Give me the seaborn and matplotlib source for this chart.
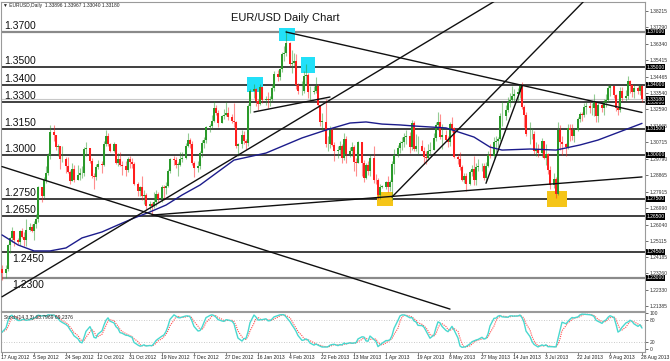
import numpy as np
import pandas as pd
import matplotlib
matplotlib.use("Agg")
import matplotlib.pyplot as plt
import matplotlib.transforms as mtransforms
from matplotlib.patches import Rectangle
import seaborn as sns

# ---------------- data ----------------
first_date = "2012-08-17"
last_date = "2013-08-28"
holidays = ["2012-12-25", "2013-01-01"]
first_open = 1.2350

closes = [
    1.2330,
    1.2350, 1.2485, 1.2525, 1.2565, 1.2515,
    1.2505, 1.2565, 1.2535, 1.2515, 1.2575,
    1.2590, 1.2570, 1.2605, 1.2635, 1.2815,
    1.2765, 1.2860, 1.2895, 1.3000, 1.3130,
    1.3115, 1.3045, 1.3050, 1.2975, 1.2980,
    1.2935, 1.2905, 1.2850, 1.2920, 1.2860,
    1.2885, 1.2895, 1.2900, 1.3035, 1.3040,
    1.2965, 1.2880, 1.2875, 1.2930, 1.2950,
    1.2945, 1.3065, 1.3110, 1.3060, 1.3025,
    1.3060, 1.2955, 1.2975, 1.2945, 1.2940,
    1.2915, 1.2975, 1.2960, 1.2950, 1.2835,
    1.2795, 1.2815, 1.2765, 1.2775, 1.2710,
    1.2720, 1.2710, 1.2735, 1.2780, 1.2750,
    1.2815, 1.2810, 1.2825, 1.2910, 1.2975,
    1.2970, 1.2945, 1.2945, 1.2980, 1.2985,
    1.3050, 1.3085, 1.3065, 1.2955, 1.2925,
    1.2940, 1.3010, 1.3070, 1.3085, 1.3160,
    1.3165, 1.3195, 1.3270, 1.3240, 1.3180,
    1.3220, 1.3225, 1.3240, 1.3215,
    1.3195, 1.3185, 1.3050, 1.3065,
    1.3115, 1.3080, 1.3070, 1.3280, 1.3365,
    1.3375, 1.3310, 1.3290, 1.3385, 1.3315,
    1.3320, 1.3315, 1.3320, 1.3380, 1.3460,
    1.3445, 1.3490, 1.3575, 1.3580, 1.3640,
    1.3520, 1.3525, 1.3535, 1.3400, 1.3365,
    1.3365, 1.3450, 1.3455, 1.3360, 1.3360,
    1.3365, 1.3390, 1.3285, 1.3190, 1.3190,
    1.3060, 1.3060, 1.3140, 1.3055, 1.3020,
    1.3030, 1.3050, 1.2985, 1.3090, 1.3005,
    1.3025, 1.3045, 1.2960, 1.2955, 1.3075,
    1.2955, 1.2870, 1.2945, 1.2910, 1.2985,
    1.2860, 1.2855, 1.2775, 1.2820, 1.2820,
    1.2845, 1.2820, 1.2845, 1.2950, 1.3000,
    1.3040, 1.3070, 1.3075, 1.3105, 1.3110,
    1.3045, 1.3180, 1.3035, 1.3050, 1.3050,
    1.3025, 1.2990, 1.2985, 1.3020, 1.3030,
    1.3095, 1.3170, 1.3185, 1.3105, 1.3115,
    1.3085, 1.3075, 1.3175, 1.3155, 1.2990,
    1.2975, 1.2930, 1.2860, 1.2880, 1.2835,
    1.2905, 1.2920, 1.2860, 1.2930, 1.2935,
    1.2935, 1.2870, 1.2940, 1.3000, 1.2995,
    1.3075, 1.3080, 1.3090, 1.3220, 1.3220,
    1.3255, 1.3300, 1.3315, 1.3335, 1.3345,
    1.3360, 1.3395, 1.3275, 1.3225, 1.3120,
    1.3120, 1.3120, 1.3020, 1.3035, 1.3010,
    1.3080, 1.2985, 1.3005, 1.2915, 1.2830,
    1.2865, 1.2780, 1.3140, 1.3075, 1.3065,
    1.3045, 1.3155, 1.3145, 1.3110, 1.3140,
    1.3205, 1.3235, 1.3225, 1.3275, 1.3280,
    1.3265, 1.3270, 1.3300, 1.3220, 1.3285,
    1.3265, 1.3300, 1.3315, 1.3380, 1.3395,
    1.3340, 1.3265, 1.3255, 1.3365, 1.3325,
    1.3335, 1.3420, 1.3400, 1.3360, 1.3380,
    1.3365, 1.3390, 1.3318,
]

highs = [
    1.2375,
    1.2375, 1.2495, 1.2535, 1.2590, 1.2570,
    1.2530, 1.2575, 1.2585, 1.2560, 1.2635,
    1.2615, 1.2610, 1.2625, 1.2665, 1.2825,
    1.2815, 1.2875, 1.2935, 1.3010, 1.3170,
    1.3172, 1.3110, 1.3060, 1.3030, 1.3050,
    1.2990, 1.2990, 1.2915, 1.2955, 1.2945,
    1.2945, 1.2925, 1.2935, 1.3045, 1.3075,
    1.3020, 1.2985, 1.2895, 1.2950, 1.2970,
    1.2965, 1.3080, 1.3140, 1.3125, 1.3070,
    1.3075, 1.3060, 1.3010, 1.3015, 1.2965,
    1.2965, 1.2990, 1.2995, 1.2985, 1.2960,
    1.2845, 1.2825, 1.2880, 1.2800, 1.2785,
    1.2740, 1.2735, 1.2790, 1.2800, 1.2790,
    1.2830, 1.2830, 1.2845, 1.2920, 1.2985,
    1.2995, 1.2990, 1.2960, 1.3015, 1.3015,
    1.3070, 1.3125, 1.3095, 1.3080, 1.2965,
    1.2965, 1.3020, 1.3085, 1.3100, 1.3165,
    1.3175, 1.3225, 1.3308, 1.3285, 1.3255,
    1.3230, 1.3260, 1.3300, 1.3275,
    1.3235, 1.3295, 1.3195, 1.3070,
    1.3140, 1.3135, 1.3090, 1.3290, 1.3375,
    1.3404, 1.3380, 1.3320, 1.3405, 1.3385,
    1.3335, 1.3360, 1.3335, 1.3405, 1.3480,
    1.3485, 1.3495, 1.3585, 1.3620, 1.3711,
    1.3645, 1.3595, 1.3580, 1.3575, 1.3410,
    1.3420, 1.3480, 1.3520, 1.3465, 1.3395,
    1.3395, 1.3445, 1.3405, 1.3285, 1.3240,
    1.3320, 1.3110, 1.3165, 1.3155, 1.3075,
    1.3050, 1.3080, 1.3065, 1.3125, 1.3110,
    1.3045, 1.3075, 1.3055, 1.2985, 1.3080,
    1.2965, 1.2970, 1.2955, 1.2965, 1.3000,
    1.3050, 1.2890, 1.2870, 1.2835, 1.2830,
    1.2850, 1.2880, 1.2860, 1.2965, 1.3035,
    1.3055, 1.3080, 1.3100, 1.3125, 1.3145,
    1.3130, 1.3200, 1.3195, 1.3120, 1.3110,
    1.3085, 1.3045, 1.3020, 1.3065, 1.3075,
    1.3125, 1.3185, 1.3243, 1.3235, 1.3175,
    1.3140, 1.3110, 1.3185, 1.3215, 1.3160,
    1.3005, 1.3015, 1.2945, 1.2895, 1.2900,
    1.2915, 1.2945, 1.2995, 1.2955, 1.2975,
    1.2955, 1.2955, 1.2960, 1.3020, 1.3060,
    1.3105, 1.3110, 1.3105, 1.3240, 1.3305,
    1.3285, 1.3330, 1.3350, 1.3390, 1.3375,
    1.3380, 1.3405, 1.3417, 1.3285, 1.3245,
    1.3185, 1.3155, 1.3135, 1.3075, 1.3060,
    1.3095, 1.3080, 1.3060, 1.3010, 1.2935,
    1.2900, 1.2875, 1.3190, 1.3170, 1.3110,
    1.3070, 1.3175, 1.3175, 1.3175, 1.3155,
    1.3215, 1.3245, 1.3245, 1.3295, 1.3300,
    1.3300, 1.3295, 1.3345, 1.3305, 1.3295,
    1.3295, 1.3320, 1.3345, 1.3400, 1.3400,
    1.3395, 1.3345, 1.3300, 1.3385, 1.3385,
    1.3370, 1.3452, 1.3425, 1.3405, 1.3400,
    1.3395, 1.3400, 1.3397,
]

lows = [
    1.2290,
    1.2300, 1.2340, 1.2440, 1.2505, 1.2480,
    1.2495, 1.2490, 1.2525, 1.2480, 1.2480,
    1.2570, 1.2560, 1.2515, 1.2585, 1.2620,
    1.2735, 1.2755, 1.2840, 1.2885, 1.2980,
    1.3080, 1.3030, 1.2995, 1.2920, 1.2960,
    1.2900, 1.2895, 1.2835, 1.2850, 1.2845,
    1.2860, 1.2855, 1.2870, 1.2880, 1.2995,
    1.2955, 1.2870, 1.2805, 1.2860, 1.2920,
    1.2900, 1.2940, 1.3050, 1.3050, 1.3015,
    1.3015, 1.2950, 1.2935, 1.2935, 1.2885,
    1.2880, 1.2905, 1.2925, 1.2925, 1.2830,
    1.2765, 1.2765, 1.2745, 1.2720, 1.2695,
    1.2685, 1.2661, 1.2700, 1.2710, 1.2730,
    1.2735, 1.2745, 1.2780, 1.2820, 1.2895,
    1.2945, 1.2925, 1.2880, 1.2940, 1.2960,
    1.2980, 1.3045, 1.3040, 1.2945, 1.2875,
    1.2905, 1.2920, 1.2990, 1.3040, 1.3070,
    1.3130, 1.3155, 1.3190, 1.3225, 1.3160,
    1.3180, 1.3205, 1.3220, 1.3200,
    1.3180, 1.3160, 1.3040, 1.2995,
    1.3040, 1.3060, 1.3035, 1.3050, 1.3240,
    1.3325, 1.3280, 1.3256, 1.3285, 1.3295,
    1.3285, 1.3265, 1.3280, 1.3310, 1.3365,
    1.3420, 1.3425, 1.3475, 1.3535, 1.3565,
    1.3505, 1.3465, 1.3505, 1.3375, 1.3345,
    1.3340, 1.3355, 1.3400, 1.3325, 1.3315,
    1.3345, 1.3355, 1.3275, 1.3165, 1.3145,
    1.3045, 1.3020, 1.3040, 1.3050, 1.2965,
    1.2985, 1.3000, 1.2955, 1.2970, 1.2955,
    1.2990, 1.2995, 1.2910, 1.2880, 1.2960,
    1.2880, 1.2845, 1.2865, 1.2885, 1.2880,
    1.2840, 1.2835, 1.2750, 1.2750, 1.2810,
    1.2805, 1.2790, 1.2795, 1.2745, 1.2890,
    1.2990, 1.3010, 1.3030, 1.3045, 1.3065,
    1.3010, 1.3030, 1.3025, 1.3020, 1.3005,
    1.3020, 1.2950, 1.2950, 1.2980, 1.3005,
    1.3030, 1.3080, 1.3140, 1.3090, 1.3035,
    1.3080, 1.3045, 1.3050, 1.3130, 1.2985,
    1.2950, 1.2915, 1.2850, 1.2840, 1.2796,
    1.2830, 1.2880, 1.2830, 1.2830, 1.2910,
    1.2910, 1.2860, 1.2850, 1.2930, 1.2985,
    1.2985, 1.3015, 1.3045, 1.3080, 1.3165,
    1.3200, 1.3245, 1.3275, 1.3300, 1.3305,
    1.3310, 1.3325, 1.3260, 1.3160, 1.3110,
    1.3060, 1.3090, 1.3005, 1.2995, 1.2990,
    1.2990, 1.2975, 1.2945, 1.2890, 1.2805,
    1.2810, 1.2755, 1.2770, 1.3030, 1.3000,
    1.2995, 1.3035, 1.3080, 1.3085, 1.3075,
    1.3135, 1.3185, 1.3195, 1.3215, 1.3235,
    1.3240, 1.3230, 1.3220, 1.3190, 1.3185,
    1.3245, 1.3225, 1.3275, 1.3300, 1.3335,
    1.3325, 1.3250, 1.3225, 1.3245, 1.3310,
    1.3310, 1.3320, 1.3355, 1.3330, 1.3325,
    1.3345, 1.3340, 1.3304,
]

# blue moving average
ma_dates = ["2012-08-17", "2012-08-27", "2012-09-05", "2012-09-14", "2012-09-24",
            "2012-10-03", "2012-10-15", "2012-10-24", "2012-11-02", "2012-11-12",
            "2012-11-21", "2012-11-30", "2012-12-11", "2013-01-02", "2013-01-21",
            "2013-02-11", "2013-02-25", "2013-03-11", "2013-03-20", "2013-03-29",
            "2013-04-09", "2013-04-17", "2013-05-06", "2013-05-22", "2013-05-31",
            "2013-06-07", "2013-06-24", "2013-07-09", "2013-07-23", "2013-08-02",
            "2013-08-28"]
ma_values = [1.2545, 1.2488, 1.2454, 1.2454, 1.2471,
             1.2528, 1.2562, 1.2602, 1.2641, 1.2676,
             1.2715, 1.2772, 1.2829, 1.2971, 1.3011,
             1.3097, 1.3142, 1.3182, 1.3188, 1.3176,
             1.3171, 1.3165, 1.3154, 1.3102, 1.3045,
             1.3028, 1.3034, 1.3028, 1.3057, 1.3085,
             1.3180]

# horizontal levels
level_prices = [1.3700, 1.3500, 1.3400, 1.3300, 1.3150, 1.3000, 1.2750, 1.2650, 1.2450, 1.2300]
level_labels = ["1.3700", "1.3500", "1.3400", "1.3300", "1.3150", "1.3000", "1.2750", "1.2650", "1.2450", "1.2300"]
bid_price = 1.33180

# trend lines (start date, start price) -> (end date, end price)
trend_start_dates = ["2012-08-17", "2012-08-17", "2013-02-01", "2012-11-13", "2013-04-04", "2013-05-29", "2013-01-14"]
trend_start_prices = [1.2934, 1.2193, 1.3700, 1.2658, 1.2761, 1.2839, 1.3245]
trend_end_dates = ["2013-05-08", "2013-06-03", "2013-08-28", "2013-08-28", "2013-07-29", "2013-06-19", "2013-02-27"]
trend_end_prices = [1.2123, 1.3873, 1.3242, 1.2875, 1.3911, 1.3393, 1.3330]

# highlight boxes: first date, last date, low, high
cyan_boxes = [("2013-01-10", "2013-01-18", 1.3359, 1.3444),
              ("2013-01-29", "2013-02-06", 1.3649, 1.3723),
              ("2013-02-11", "2013-02-18", 1.3467, 1.3558)]
yellow_boxes = [("2013-03-27", "2013-04-04", 1.2710, 1.2789),
                ("2013-07-04", "2013-07-15", 1.2704, 1.2795)]

axis_ticks = [1.38215, 1.37290, 1.36340, 1.35415, 1.34465, 1.33540, 1.32590, 1.31665, 1.30715,
              1.29790, 1.28865, 1.27915, 1.26990, 1.26040, 1.25115, 1.24185, 1.23260, 1.22330, 1.21385]
axis_tick_labels = ["1.38215", "1.37290", "1.36340", "1.35415", "1.34465", "1.33540", "1.32590",
                    "1.31665", "1.30715", "1.29790", "1.28865", "1.27915", "1.26990", "1.26040",
                    "1.25115", "1.24185", "1.23260", "1.22330", "1.21385"]

date_ticks = ["2012-08-17", "2012-09-05", "2012-09-24", "2012-10-12", "2012-10-31", "2012-11-19",
              "2012-12-07", "2012-12-27", "2013-01-16", "2013-02-04", "2013-02-22", "2013-03-13",
              "2013-04-01", "2013-04-19", "2013-05-08", "2013-05-27", "2013-06-14", "2013-07-03",
              "2013-07-22", "2013-08-09", "2013-08-28"]
date_tick_labels = ["17 Aug 2012", "5 Sep 2012", "24 Sep 2012", "12 Oct 2012", "31 Oct 2012",
                    "19 Nov 2012", "7 Dec 2012", "27 Dec 2012", "16 Jan 2013", "4 Feb 2013",
                    "22 Feb 2013", "13 Mar 2013", "1 Apr 2013", "19 Apr 2013", "8 May 2013",
                    "27 May 2013", "14 Jun 2013", "3 Jul 2013", "22 Jul 2013", "9 Aug 2013",
                    "28 Aug 2013"]
stoch_ticks = [0, 20, 80, 100]
stoch_tick_labels = ["0", "20", "80", "100"]

title_text = "EUR/USD Daily Chart"
header_text = "\u25bc EURUSD,Daily  1.33896 1.33967 1.33040 1.33180"
stoch_text = "Stoch(14,3,3) 63.7969 69.2376"

# ---------------- setup ----------------
sns.set_theme(style="white")
plt.rcParams["font.family"] = ["Liberation Sans", "DejaVu Sans"]

days = pd.bdate_range(first_date, last_date, freq="C", holidays=holidays)
slots = pd.bdate_range(first_date, last_date, freq="C",
                       weekmask="Sun Mon Tue Wed Thu Fri", holidays=holidays)
n = min(len(days), len(closes), len(highs), len(lows))
days = days[:n]
c = np.array(closes[:n])
hi = np.array(highs[:n])
lo = np.array(lows[:n])
o = np.concatenate([[first_open], c[:-1]])
hi = np.maximum(hi, np.maximum(o, c))
lo = np.minimum(lo, np.minimum(o, c))
xpos = slots.get_indexer(days)


def pos(d):
    return slots.get_indexer(pd.DatetimeIndex([d]))[0]


W, H = 670, 361
fig = plt.figure(figsize=(W / 100, H / 100), dpi=100)
fig.patch.set_facecolor("white")
ax = fig.add_axes([1 / W, (H - 311) / H, 644 / W, 309 / H])
ax2 = fig.add_axes([1 / W, (H - 352) / H, 644 / W, 40 / H])

GREEN = "#2a9a2a"
RED = "#ff1e1e"
LEVEL_DARK = "#303030"
LEVEL_GRAY = "#8a8a8a"

# ---------------- main panel ----------------
ax.set_xlim(-0.5, 321.5)
ax.set_ylim(1.21121, 1.38707)

for p, lbl in zip(level_prices, level_labels):
    gray = lbl in ("1.3700", "1.2300")
    ax.axhline(p, color=LEVEL_GRAY if gray else LEVEL_DARK, lw=1.6 if gray else 1.3, zorder=2)
ax.axhline(bid_price, color="#c8c8c8", lw=0.8, zorder=1.5)

for d0, d1, p0, p1 in cyan_boxes:
    x0, x1 = pos(d0) - 0.5, pos(d1) + 0.5
    ax.add_patch(Rectangle((x0, p0), x1 - x0, p1 - p0, facecolor="#22e0f8", edgecolor="none", zorder=2.2))
for d0, d1, p0, p1 in yellow_boxes:
    x0, x1 = pos(d0) - 0.5, pos(d1) + 0.5
    ax.add_patch(Rectangle((x0, p0), x1 - x0, p1 - p0, facecolor="#f5c518", edgecolor="none", zorder=2.2))

up = c >= o
cols = np.where(up, GREEN, RED)
ax.vlines(xpos, lo, hi, colors=cols, lw=0.8, alpha=0.5, zorder=3)
body = np.maximum(np.abs(c - o), 0.00012)
ax.bar(xpos, body, bottom=np.minimum(o, c), width=0.8, color=cols, linewidth=0, zorder=4)

ma_x = [pos(d) for d in ma_dates]
sns.lineplot(x=ma_x, y=ma_values, ax=ax, color="#1c1c8c", lw=1.0, zorder=5)

for d0, p0, d1, p1 in zip(trend_start_dates, trend_start_prices, trend_end_dates, trend_end_prices):
    ax.plot([pos(d0), pos(d1)], [p0, p1], color="#101010", lw=1.0, zorder=6)

blend = mtransforms.blended_transform_factory(ax.transAxes, ax.transData)
for p, lbl in zip(level_prices, level_labels):
    if lbl in ("1.2450", "1.2300"):
        ax.annotate(lbl, xy=(11 / 644, p), xycoords=blend, xytext=(0, -1.6),
                    textcoords="offset points", ha="left", va="top", fontsize=7.5, color="#111111", zorder=8)
    else:
        ax.annotate(lbl, xy=(3 / 644, p), xycoords=blend, xytext=(0, 2.2),
                    textcoords="offset points", ha="left", va="baseline", fontsize=7.5, color="#111111", zorder=8)

ax.text(284 / 644, 1 - 16 / 309, title_text, transform=ax.transAxes, ha="center", va="center",
        fontsize=8, color="#111111", zorder=8)
ax.text(2 / 644, 1 - 3.5 / 309, header_text, transform=ax.transAxes, ha="left", va="center",
        fontsize=3.5, color="#222222", zorder=8)

ax.yaxis.tick_right()
ax.set_yticks(axis_ticks)
ax.set_yticklabels(axis_tick_labels)
ax.tick_params(axis="y", right=True, left=False, length=2, width=0.5, pad=1.5,
               labelsize=3.6, colors="#333333", direction="out")
ax.set_xticks([])
ax.set_xlabel("")
ax.set_ylabel("")

for p in level_prices + [bid_price]:
    ax.text(1.0 + 1.5 / 644, p, f"{p:.5f}", transform=blend, ha="left", va="center",
            fontsize=3.6, color="white", zorder=20, clip_on=False,
            bbox=dict(boxstyle="square,pad=0.12", fc="black", ec="none"))

for sp in ax.spines.values():
    sp.set_color("#9a9a9a")
    sp.set_linewidth(0.8)

# ---------------- stochastic panel ----------------
df = pd.DataFrame({"h": hi, "l": lo, "c": c})
ll = df["l"].rolling(14, min_periods=1).min()
hh = df["h"].rolling(14, min_periods=1).max()
num = (df["c"] - ll).rolling(3, min_periods=1).sum()
den = (hh - ll).rolling(3, min_periods=1).sum()
k_line = (100 * num / den).to_numpy()
d_line = pd.Series(k_line).rolling(3, min_periods=1).mean().to_numpy()

ax2.set_xlim(-0.5, 321.5)
ax2.set_ylim(-8, 103)
ax2.axhline(80, color="#b8b8b8", lw=0.6, ls=(0, (1, 2)), zorder=1)
ax2.axhline(20, color="#b8b8b8", lw=0.6, ls=(0, (1, 2)), zorder=1)
sns.lineplot(x=xpos, y=d_line, ax=ax2, color="#ff4a4a", lw=0.8, linestyle=(0, (1, 1)), zorder=3)
sns.lineplot(x=xpos, y=k_line, ax=ax2, color="#49d8cf", lw=1.0, zorder=4)
ax2.text(3 / 644, 0.93, stoch_text, transform=ax2.transAxes, ha="left", va="top",
         fontsize=3.6, color="#222222", zorder=8)

ax2.yaxis.tick_right()
ax2.set_yticks(stoch_ticks)
ax2.set_yticklabels(stoch_tick_labels)
ax2.tick_params(axis="y", right=True, left=False, length=2, width=0.5, pad=1.5,
                labelsize=3.6, colors="#333333", direction="out")
dt_pos = [pos(d) for d in date_ticks]
ax2.set_xticks(dt_pos)
ax2.set_xticklabels([])
ax2.tick_params(axis="x", bottom=True, length=2, width=0.5, colors="#555555", direction="out")
blend2 = mtransforms.blended_transform_factory(ax2.transData, ax2.transAxes)
for p, lbl in zip(dt_pos, date_tick_labels):
    ax2.text(p - 0.3, -0.08, lbl, transform=blend2, ha="left", va="top", fontsize=3.6,
             color="#222222", clip_on=False)
ax2.set_xlabel("")
ax2.set_ylabel("")
for sp in ax2.spines.values():
    sp.set_color("#9a9a9a")
    sp.set_linewidth(0.8)

fig.savefig("out.png", dpi=100)
